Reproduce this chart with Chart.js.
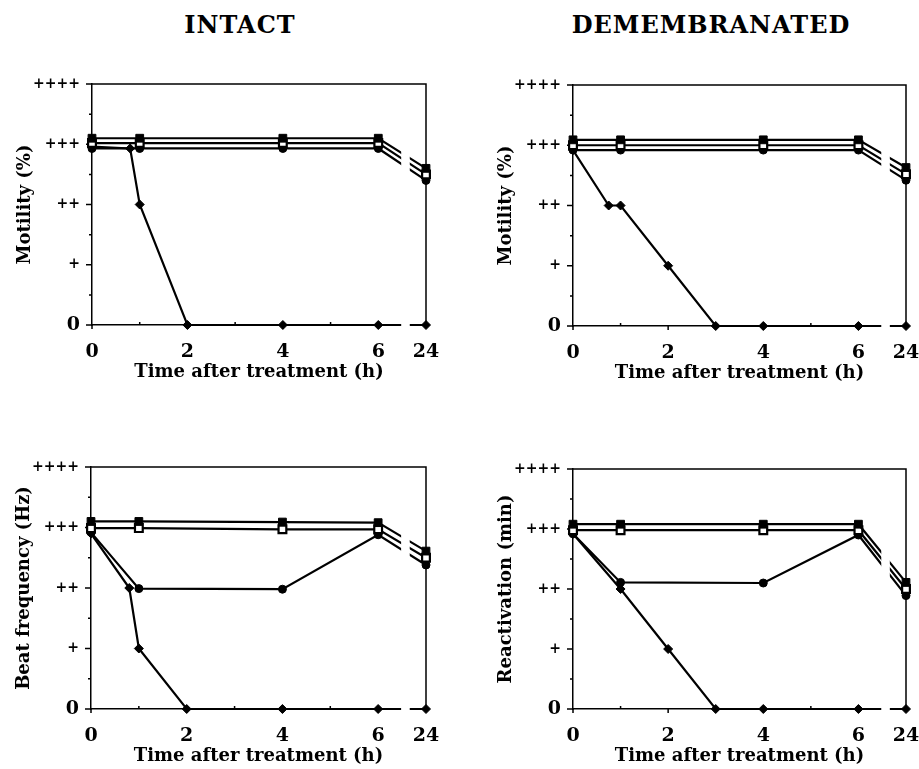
<!DOCTYPE html>
<html>
<head>
<meta charset="utf-8">
<script src="https://cdn.jsdelivr.net/npm/chart.js@4.4.1/dist/chart.umd.min.js"></script>
<style>
  body { margin: 0; background: #fff; }
  #wrap { position: relative; width: 919px; height: 769px; overflow: hidden; }
  canvas { position: absolute; left: 0; top: 0; }
  .head { position: absolute; top: 10px; font: bold 24px 'DejaVu Serif', serif; letter-spacing: 1px; color: #000; transform: translateX(-50%); }
</style>
</head>
<body>
<div id="wrap">
  <div class="head" style="left:240px">INTACT</div>
  <div class="head" style="left:711px">DEMEMBRANATED</div>
  <canvas id="c1" width="960" height="769"></canvas>
  <canvas id="c2" width="960" height="769"></canvas>
  <canvas id="c3" width="960" height="769"></canvas>
  <canvas id="c4" width="960" height="769"></canvas>
</div>
<script>
// time points (h); 24 h sits after the axis break
const hoursFlat = [0, 1, 4, 6, 24];
const xTickHours = [0, 2, 4, 6, 24];
const yTickLabels = ['0', '+', '++', '+++', '++++'];

// intact - motility
const intMotA = [3.10, 3.10, 3.10, 3.10, 2.60];
const intMotB = [3.02, 3.02, 3.02, 3.02, 2.50];
const intMotC = [2.93, 2.93, 2.93, 2.93, 2.40];
const intMotDHours = [0, 0.8, 1, 2, 4, 6, 24];
const intMotD = [2.96, 2.93, 2.0, 0, 0, 0, 0];

// demembranated - motility
const demMotA = [3.09, 3.09, 3.09, 3.09, 2.63];
const demMotB = [3.00, 3.00, 3.00, 3.00, 2.52];
const demMotC = [2.92, 2.92, 2.92, 2.92, 2.42];
const demMotDHours = [0, 0.75, 1, 2, 3, 4, 6, 24];
const demMotD = [2.92, 2.0, 2.0, 1.0, 0, 0, 0, 0];

// intact - beat frequency
const intBeatA = [3.10, 3.10, 3.09, 3.08, 2.61];
const intBeatB = [2.99, 2.99, 2.97, 2.97, 2.50];
const intBeatC = [2.92, 1.99, 1.98, 2.88, 2.38];
const intBeatDHours = [0, 0.8, 1, 2, 4, 6, 24];
const intBeatD = [2.90, 2.0, 1.0, 0, 0, 0, 0];

// demembranated - reactivation
const demReaA = [3.08, 3.08, 3.08, 3.08, 2.11];
const demReaB = [2.98, 2.98, 2.98, 2.98, 2.00];
const demReaC = [2.92, 2.11, 2.10, 2.90, 1.89];
const demReaDHours = [0, 1, 2, 3, 4, 6, 24];
const demReaD = [2.92, 2.0, 1.0, 0, 0, 0, 0];

// axis position of an hour value (broken axis: 24 h drawn at 7)
const axisX = h => (h > 6 ? 7 : h);
const pts = (hrs, vals) => hrs.map((h, i) => ({ x: axisX(h), y: vals[i] }));

const FONT = "'DejaVu Serif', serif";
const CW = 960;

const breakPlugin = {
  id: 'breakFrame',
  beforeDatasetsDraw(chart) {
    const { ctx, chartArea: a, scales: { x, y } } = chart;
    ctx.save();
    ctx.strokeStyle = '#000';
    ctx.lineWidth = 1.5;
    ctx.beginPath();
    ctx.moveTo(a.left, a.top);
    ctx.lineTo(a.right, a.top);
    ctx.lineTo(a.right, a.bottom);
    ctx.stroke();
    // y ticks
    ctx.beginPath();
    for (let v = 0; v <= 4; v += 0.5) {
      const py = y.getPixelForValue(v);
      const len = v % 1 === 0 ? 6 : 3;
      ctx.moveTo(a.left - len, py);
      ctx.lineTo(a.left, py);
    }
    // x ticks
    for (let v = 0; v <= 6; v++) {
      const px = x.getPixelForValue(v);
      if (v % 2 === 0) { ctx.moveTo(px, a.bottom); ctx.lineTo(px, a.bottom + 4); }
      else { ctx.moveTo(px, a.bottom); ctx.lineTo(px, a.bottom - 3); }
    }
    ctx.stroke();
    ctx.restore();
  },
  afterDatasetsDraw(chart) {
    const { ctx, chartArea: a, scales: { x } } = chart;
    const g1 = x.getPixelForValue(6.48), g2 = x.getPixelForValue(6.66);
    ctx.save();
    ctx.fillStyle = '#fff';
    ctx.fillRect(g1, a.top + 2, g2 - g1, a.bottom - a.top + 6);
    ctx.restore();
  }
};

function makePanel(id, box, yTitle, series) {
  const styles = [
    { pointStyle: 'rect', pointRadius: 5.5, pointBackgroundColor: '#000', pointBorderWidth: 1 },
    { pointStyle: 'rect', pointRadius: 5.5, pointBackgroundColor: '#fff', pointBorderWidth: 2.2 },
    { pointStyle: 'circle', pointRadius: 4, pointBackgroundColor: '#000', pointBorderWidth: 1 },
    { pointStyle: 'rectRot', pointRadius: 4.5, pointBackgroundColor: '#000', pointBorderWidth: 1 }
  ];
  const datasets = series.map((s, i) => Object.assign({
    data: s,
    borderColor: '#000',
    pointBorderColor: '#000',
    borderWidth: 2.2,
    tension: 0,
    clip: false
  }, styles[i]));

  return new Chart(document.getElementById(id), {
    type: 'line',
    data: { datasets },
    options: {
      responsive: false,
      animation: false,
      events: [],
      layout: {
        padding: { left: box.L - 77, right: CW - box.R, top: box.T, bottom: 769 - box.B - 58 }
      },
      plugins: { legend: { display: false }, tooltip: { enabled: false } },
      scales: {
        x: {
          type: 'linear',
          min: 0, max: 7,
          afterFit: s => { s.height = 58; },
          grid: { display: false, drawTicks: false },
          border: { display: true, color: '#000', width: 1.5 },
          ticks: {
            stepSize: 1, autoSkip: false, maxRotation: 0, padding: 16, color: '#000',
            font: { family: FONT, size: 19, weight: 'bold' },
            callback: v => {
              const h = xTickHours.find(t => axisX(t) === v);
              return h === undefined ? '' : String(h);
            }
          },
          title: {
            display: true, text: 'Time after treatment (h)', color: '#000',
            padding: { top: 0, bottom: 0 },
            font: { family: FONT, size: 18, weight: 'bold' }
          }
        },
        y: {
          min: 0, max: 4,
          afterFit: s => { s.width = 77; },
          grid: { display: false, drawTicks: false },
          border: { display: true, color: '#000', width: 1.5 },
          ticks: {
            stepSize: 0.5, autoSkip: false, padding: 12, color: '#000',
            font: c => ({ family: FONT, size: c.tick && c.tick.value === 0 ? 19 : 14, weight: 'bold' }),
            callback: v => (v % 1 === 0 ? yTickLabels[v] : '')
          },
          title: {
            display: true, text: yTitle, color: '#000',
            padding: { top: 0, bottom: 0 },
            font: { family: FONT, size: 18, weight: 'bold' }
          }
        }
      }
    },
    plugins: [breakPlugin]
  });
}

makePanel('c1', { L: 92, R: 426, T: 84, B: 325 }, 'Motility (%)', [
  pts(hoursFlat, intMotA), pts(hoursFlat, intMotB), pts(hoursFlat, intMotC), pts(intMotDHours, intMotD)
]);
makePanel('c2', { L: 573, R: 906, T: 85, B: 326 }, 'Motility (%)', [
  pts(hoursFlat, demMotA), pts(hoursFlat, demMotB), pts(hoursFlat, demMotC), pts(demMotDHours, demMotD)
]);
makePanel('c3', { L: 91, R: 426, T: 467, B: 709 }, 'Beat frequency (Hz)', [
  pts(hoursFlat, intBeatA), pts(hoursFlat, intBeatB), pts(hoursFlat, intBeatC), pts(intBeatDHours, intBeatD)
]);
makePanel('c4', { L: 573, R: 906, T: 469, B: 709 }, 'Reactivation (min)', [
  pts(hoursFlat, demReaA), pts(hoursFlat, demReaB), pts(hoursFlat, demReaC), pts(demReaDHours, demReaD)
]);
</script>
</body>
</html>
